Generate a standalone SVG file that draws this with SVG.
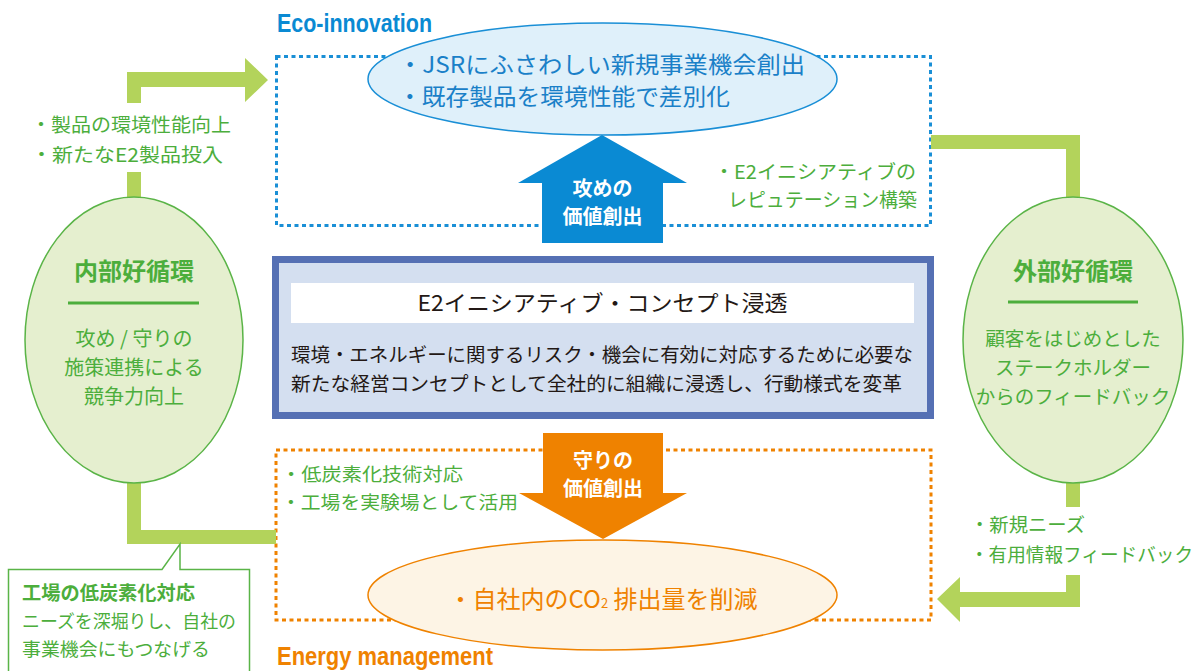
<svg xmlns="http://www.w3.org/2000/svg" width="1200" height="671" viewBox="0 0 1200 671">
<style>
.jp{font-family:'Noto Sans CJK JP','Noto Sans',sans-serif;}
.g{fill:#4cae3c;}
.band{fill:#b3d35b;}
.egg{fill:#e5efcf;stroke:#5ab447;stroke-width:1.5;}
.head{font-family:'Liberation Sans','Noto Sans',sans-serif;font-weight:bold;font-size:26px;}
.w{fill:#ffffff;font-weight:bold;font-size:20px;}
</style>
<rect width="1200" height="671" fill="#ffffff"/>

<g id="eco-innovation-area">
  <rect x="276.5" y="56.5" width="654" height="169" fill="none" stroke="#1a8fd6" stroke-width="3" stroke-dasharray="4 3.5"/>
  <text x="277" y="32" class="head" fill="#0a8ad3" textLength="155" lengthAdjust="spacingAndGlyphs">Eco-innovation</text>
</g>

<g id="energy-management-area">
  <rect x="276" y="450" width="655" height="170" fill="none" stroke="#ef8200" stroke-width="3" stroke-dasharray="4 3.5"/>
  <text x="277" y="665" class="head" fill="#ef8200" textLength="216" lengthAdjust="spacingAndGlyphs">Energy management</text>
</g>

<g id="connectors">
  <rect class="band" x="127" y="172" width="14" height="26"/>
  <path class="band" d="M127,103 V72 H245 V58 L268,80 L245,102 V87 H141 V103 Z"/>
  <path class="band" d="M931,135 H1080 V198 H1066 V149 H931 Z"/>
  <rect class="band" x="1066" y="482" width="14" height="25"/>
  <path class="band" d="M1066,575 H1080 V607 H960 V622 L937,599 L960,577 V592 H1066 Z"/>
  <path class="band" d="M127,482 H141 V530 H276 V544 H127 Z"/>
</g>

<g id="eco-ellipse">
  <ellipse cx="602.5" cy="79" rx="234.5" ry="56" fill="#dff0fa" stroke="#1a8fd6" stroke-width="1.5"/>
  <text class="jp" x="398" y="73" font-size="23" fill="#1a80c8" textLength="407" lengthAdjust="spacingAndGlyphs">・JSRにふさわしい新規事業機会創出</text>
  <text class="jp" x="398" y="105" font-size="23" fill="#1a80c8" textLength="332" lengthAdjust="spacingAndGlyphs">・既存製品を環境性能で差別化</text>
</g>

<g id="attack-arrow">
  <polygon points="602,135 687,183 663,183 663,243 542,243 542,183 518,183" fill="#0a8ad3"/>
  <text class="jp w" x="602.5" y="196" text-anchor="middle">攻めの</text>
  <text class="jp w" x="602.5" y="224" text-anchor="middle">価値創出</text>
</g>

<g id="reputation-label">
  <text class="jp g" x="714" y="179" font-size="19" textLength="202" lengthAdjust="spacingAndGlyphs">・E2イニシアティブの</text>
  <text class="jp g" x="728" y="207" font-size="19" textLength="189" lengthAdjust="spacingAndGlyphs">レピュテーション構築</text>
</g>

<g id="product-label">
  <text class="jp g" x="31" y="132" font-size="19" textLength="200" lengthAdjust="spacingAndGlyphs">・製品の環境性能向上</text>
  <text class="jp g" x="31" y="162" font-size="19" textLength="192" lengthAdjust="spacingAndGlyphs">・新たなE2製品投入</text>
</g>

<g id="inner-loop">
  <ellipse class="egg" cx="134" cy="340" rx="109" ry="143"/>
  <text class="jp g" x="134" y="280" font-size="24" font-weight="bold" text-anchor="middle">内部好循環</text>
  <line x1="68" y1="303" x2="199" y2="303" stroke="#4cae3c" stroke-width="3"/>
  <text class="jp g" x="134" y="346" font-size="20" text-anchor="middle">攻め / 守りの</text>
  <text class="jp g" x="134" y="375" font-size="20" text-anchor="middle">施策連携による</text>
  <text class="jp g" x="134" y="404" font-size="20" text-anchor="middle">競争力向上</text>
</g>

<g id="outer-loop">
  <ellipse class="egg" cx="1073" cy="340" rx="110" ry="143"/>
  <text class="jp g" x="1073" y="280" font-size="24" font-weight="bold" text-anchor="middle">外部好循環</text>
  <line x1="1008" y1="302" x2="1138" y2="302" stroke="#4cae3c" stroke-width="3"/>
  <text class="jp g" x="1073" y="346" font-size="19.5" text-anchor="middle">顧客をはじめとした</text>
  <text class="jp g" x="1073" y="375" font-size="19.5" text-anchor="middle">ステークホルダー</text>
  <text class="jp g" x="1073" y="404" font-size="19.5" text-anchor="middle">からのフィードバック</text>
</g>

<g id="concept-box">
  <rect x="275.5" y="259.5" width="655" height="156" fill="#d4dff0" stroke="#5570b4" stroke-width="7"/>
  <rect x="291" y="283" width="623" height="40" fill="#ffffff"/>
  <text class="jp" x="602.5" y="311" font-size="22" fill="#231815" text-anchor="middle" textLength="370" lengthAdjust="spacingAndGlyphs">E2イニシアティブ・コンセプト浸透</text>
  <text class="jp" x="291" y="362" font-size="19.5" fill="#231815" textLength="622" lengthAdjust="spacingAndGlyphs">環境・エネルギーに関するリスク・機会に有効に対応するために必要な</text>
  <text class="jp" x="291" y="391" font-size="19.5" fill="#231815" textLength="611" lengthAdjust="spacingAndGlyphs">新たな経営コンセプトとして全社的に組織に浸透し、行動様式を変革</text>
</g>

<g id="defense-arrow">
  <polygon points="543,433 663,433 663,493 687,493 603,539 519,493 543,493" fill="#ef8200"/>
  <text class="jp w" x="603" y="468" text-anchor="middle">守りの</text>
  <text class="jp w" x="603" y="496" text-anchor="middle">価値創出</text>
</g>

<g id="lowcarbon-label">
  <text class="jp g" x="281" y="481" font-size="18.5" textLength="182" lengthAdjust="spacingAndGlyphs">・低炭素化技術対応</text>
  <text class="jp g" x="281" y="509" font-size="18.5" textLength="237" lengthAdjust="spacingAndGlyphs">・工場を実験場として活用</text>
</g>

<g id="energy-ellipse">
  <ellipse cx="602.5" cy="595" rx="234.5" ry="55" fill="#fdf4e5" stroke="#ef8200" stroke-width="1.5"/>
  <text class="jp" x="603" y="608" font-size="24" fill="#ef8200" text-anchor="middle">・自社内のCO<tspan font-size="13">2</tspan> 排出量を削減</text>
</g>

<g id="needs-label">
  <text class="jp g" x="970" y="532" font-size="19" textLength="115" lengthAdjust="spacingAndGlyphs">・新規ニーズ</text>
  <text class="jp g" x="970" y="562" font-size="19" textLength="223" lengthAdjust="spacingAndGlyphs">・有用情報フィードバック</text>
</g>

<g id="factory-callout">
  <path d="M8.5,690 V569.5 H162 L180,544 V569.5 H249.5 V690" fill="#ffffff" stroke="#5ab447" stroke-width="1.5"/>
  <text class="jp g" x="22" y="600" font-size="19" font-weight="bold" textLength="173" lengthAdjust="spacingAndGlyphs">工場の低炭素化対応</text>
  <text class="jp g" x="22" y="628" font-size="18.5" textLength="214" lengthAdjust="spacingAndGlyphs">ニーズを深堀りし、自社の</text>
  <text class="jp g" x="22" y="656" font-size="18.5" textLength="188" lengthAdjust="spacingAndGlyphs">事業機会にもつなげる</text>
</g>
</svg>
